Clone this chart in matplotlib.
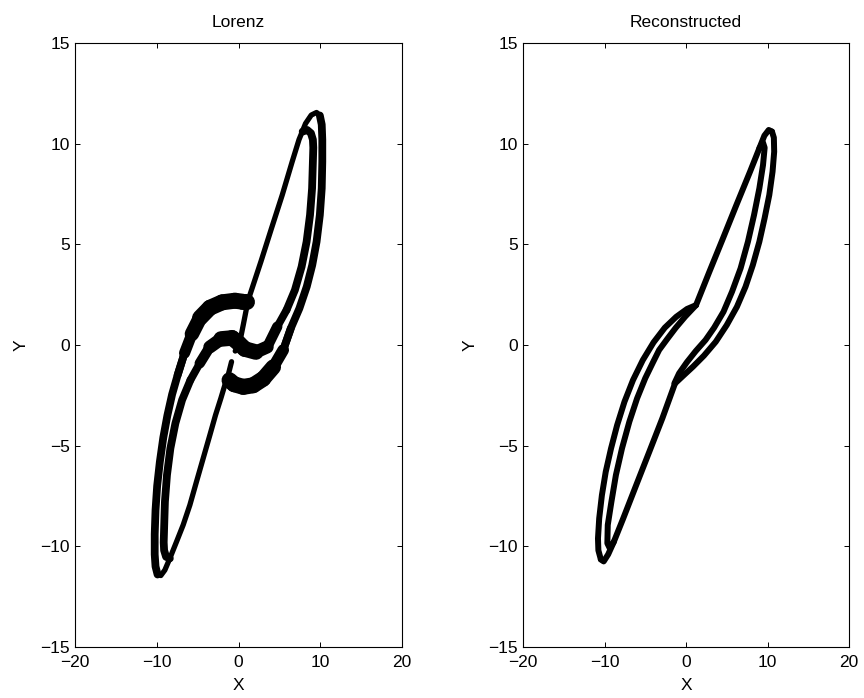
import matplotlib
matplotlib.use("Agg")
import matplotlib.pyplot as plt
import numpy as np
from matplotlib.collections import LineCollection

plt.rcParams['font.family'] = ['Liberation Sans', 'DejaVu Sans']

# ---- Lorenz panel (left), curves ----
lorenz_spine_up_x = [-0.40, 0.17, 0.58, 0.98, 1.39, 2.74, 4.04, 5.35, 6.57, 7.40, 8.20, 8.90, 9.55, 9.95]
lorenz_spine_up_y = [-0.30, 0.17, 0.99, 1.82, 2.48, 4.14, 5.80, 7.45, 9.11, 10.20, 11.00, 11.42, 11.55, 11.40]

lorenz_outer_right_x = [9.95, 10.18, 10.25, 10.25, 10.18, 9.95, 9.55, 9.02, 8.35, 7.45, 6.40, 5.47]
lorenz_outer_right_y = [11.40, 10.95, 10.20, 9.11, 7.78, 6.46, 5.13, 3.97, 2.90, 1.82, 0.83, -0.25]

lorenz_arc_low_x = [6.40, 5.47, 4.25, 3.02, 1.80, 0.58, -0.53, -1.10]
lorenz_arc_low_y = [0.83, -0.25, -1.10, -1.68, -2.00, -2.08, -1.95, -1.75]

lorenz_spine_low_x = [-0.85, -1.26, -1.67, -2.16, -2.81, -3.50, -4.32, -5.14, -5.95, -6.77, -7.58, -8.40, -9.01, -9.50, -9.90]
lorenz_spine_low_y = [-0.83, -1.49, -1.99, -2.65, -3.48, -4.47, -5.63, -6.79, -7.95, -8.94, -9.77, -10.60, -11.18, -11.45, -11.40]

lorenz_outer_left_x = [-9.90, -10.15, -10.25, -10.25, -10.15, -9.95, -9.62, -9.20, -8.70, -8.12, -7.45, -6.60]
lorenz_outer_left_y = [-11.40, -11.00, -10.40, -9.40, -8.20, -7.00, -5.80, -4.60, -3.50, -2.45, -1.50, -0.40]

lorenz_arc_up_x = [-7.45, -6.60, -5.70, -4.70, -3.50, -1.99, -0.44, 0.50, 1.00]
lorenz_arc_up_y = [-1.50, -0.40, 0.55, 1.35, 1.85, 2.12, 2.20, 2.15, 2.15]

lorenz_inner_right_x = [7.85, 8.40, 8.86, 9.10, 9.15, 9.10, 9.00, 8.75, 8.33, 7.72, 6.90, 5.88]
lorenz_inner_right_y = [10.60, 10.68, 10.52, 10.20, 9.80, 9.11, 7.78, 6.46, 5.13, 3.89, 2.73, 1.74]

lorenz_middle_x = [5.88, 4.74, 3.51, 2.13, 0.78, 0.00, -0.78, -2.13, -3.51, -4.74, -5.88]
lorenz_middle_y = [1.74, 0.91, -0.10, -0.35, -0.20, 0.10, 0.35, 0.30, -0.10, -0.91, -1.74]

lorenz_inner_left_x = [-5.88, -6.90, -7.72, -8.33, -8.75, -9.00, -9.10, -9.15, -9.10, -8.86, -8.40]
lorenz_inner_left_y = [-1.74, -2.73, -3.89, -5.13, -6.46, -7.78, -9.11, -9.80, -10.20, -10.52, -10.60]

# ---- Reconstructed panel (right) ----
recon_spine_up_x = [1.23, 2.87, 4.54, 6.18, 7.86, 9.00, 9.62, 10.15, 10.55]
recon_spine_up_y = [1.98, 3.64, 5.30, 6.95, 8.61, 9.77, 10.40, 10.68, 10.60]

recon_outer_right_x = [10.55, 10.78, 10.82, 10.62, 10.22, 9.64, 9.00, 8.20, 7.30, 6.25, 5.00, 3.65, 2.20, 0.85, -0.35, -1.35]
recon_outer_right_y = [10.60, 10.30, 9.60, 8.61, 7.45, 6.29, 5.13, 3.97, 2.89, 1.90, 0.99, 0.16, -0.53, -1.08, -1.53, -1.91]

recon_inner_right_x = [9.00, 9.45, 9.65, 9.45, 9.00, 8.35, 7.60, 6.70, 5.65, 4.60, 3.45, 2.40, 1.20, 0.10, -0.85, -1.43]
recon_inner_right_y = [9.77, 10.05, 9.80, 8.94, 7.78, 6.46, 5.13, 3.81, 2.65, 1.65, 0.86, 0.25, -0.30, -0.86, -1.41, -1.91]

recon_spine_low_x = [-1.35, -2.90, -4.50, -6.10, -7.70, -8.85, -9.55, -10.10, -10.45]
recon_spine_low_y = [-1.91, -3.64, -5.30, -6.95, -8.61, -9.77, -10.40, -10.75, -10.65]

recon_outer_left_x = [-10.45, -10.75, -10.80, -10.65, -10.32, -9.85, -9.20, -8.45, -7.55, -6.50, -5.30, -3.98, -2.60, -1.20, 0.13, 1.23]
recon_outer_left_y = [-10.65, -10.20, -9.61, -8.61, -7.46, -6.30, -5.14, -3.98, -2.82, -1.74, -0.75, 0.13, 0.86, 1.40, 1.79, 1.98]

recon_inner_left_x = [-8.85, -9.35, -9.65, -9.60, -9.15, -8.60, -7.85, -6.95, -6.00, -5.00, -4.05, -3.30, -2.30, -1.25, -0.10, 1.23]
recon_inner_left_y = [-9.77, -10.10, -9.85, -8.94, -7.78, -6.46, -5.13, -3.81, -2.65, -1.65, -0.86, -0.25, 0.30, 0.86, 1.41, 1.98]

titles = ['Lorenz', 'Reconstructed']
xticks = [-20, -10, 0, 10, 20]
yticks = [-15, -10, -5, 0, 5, 10, 15]

# line widths in points: spine (thin line), lobe edges, thick S-bands
W_SPINE, W_EDGE, W_BAND = 3.8, 5.6, 11.5

# (x, y, width at start, peak width, width at end)
lorenz_segments = [
    (lorenz_spine_up_x, lorenz_spine_up_y, W_SPINE, W_SPINE, W_SPINE),
    (lorenz_spine_low_x, lorenz_spine_low_y, W_SPINE, W_SPINE, W_SPINE),
    (lorenz_outer_right_x, lorenz_outer_right_y, W_EDGE, W_EDGE, W_EDGE),
    (lorenz_outer_left_x, lorenz_outer_left_y, W_EDGE, W_EDGE, W_EDGE),
    (lorenz_inner_right_x, lorenz_inner_right_y, W_EDGE, W_EDGE, W_EDGE),
    (lorenz_inner_left_x, lorenz_inner_left_y, W_EDGE, W_EDGE, W_EDGE),
    (lorenz_arc_low_x, lorenz_arc_low_y, W_EDGE, W_BAND, W_BAND),
    (lorenz_arc_up_x, lorenz_arc_up_y, W_EDGE, W_BAND, W_BAND),
    (lorenz_middle_x, lorenz_middle_y, W_EDGE, W_BAND, W_EDGE),
]

W_RECON = 4.3
recon_segments = [
    (recon_spine_up_x, recon_spine_up_y, W_RECON, W_RECON, W_RECON),
    (recon_spine_low_x, recon_spine_low_y, W_RECON, W_RECON, W_RECON),
    (recon_outer_right_x, recon_outer_right_y, W_RECON, W_RECON, W_RECON),
    (recon_inner_right_x, recon_inner_right_y, W_RECON, W_RECON, W_RECON),
    (recon_outer_left_x, recon_outer_left_y, W_RECON, W_RECON, W_RECON),
    (recon_inner_left_x, recon_inner_left_y, W_RECON, W_RECON, W_RECON),
]


def draw_curve(ax, xs, ys, w0, wmax, w1):
    if w0 == wmax == w1:
        ax.plot(xs, ys, color='k', lw=w0, solid_capstyle='round', solid_joinstyle='round')
        return
    pts = np.column_stack([xs, ys])
    segs = np.stack([pts[:-1], pts[1:]], axis=1)
    n = len(segs)
    t = np.linspace(0, 1, n)
    # ramp up over the first third, hold, ramp down over the last third
    widths = np.interp(t, [0, 0.35, 0.65, 1], [w0, wmax, wmax, w1])
    lc = LineCollection(segs, colors='k', linewidths=widths, capstyle='round', joinstyle='round')
    ax.add_collection(lc)


fig = plt.figure(figsize=(8.64, 6.98), dpi=100)
ax1 = fig.add_axes([75 / 864, 1 - 647 / 698, 327 / 864, 604 / 698])
ax2 = fig.add_axes([523 / 864, 1 - 647 / 698, 326 / 864, 604 / 698])

for ax, segs, title in [(ax1, lorenz_segments, titles[0]), (ax2, recon_segments, titles[1])]:
    for xs, ys, w0, wmax, w1 in segs:
        draw_curve(ax, xs, ys, w0, wmax, w1)
    ax.set_xlim(-20, 20)
    ax.set_ylim(-15, 15)
    ax.set_xticks(xticks)
    ax.set_yticks(yticks)
    ax.tick_params(direction='in', top=True, right=True, length=3.6, width=0.7,
                   labelsize=12.5)
    ax.tick_params(axis='x', pad=6)
    ax.tick_params(axis='y', pad=3.6)
    for sp in ax.spines.values():
        sp.set_linewidth(0.8)
    ax.set_title(title, fontsize=12.5, pad=11.5)
    ax.set_xlabel('X', fontsize=12.5)
    ax.set_ylabel('Y', fontsize=12.5)
    ax.xaxis.set_label_coords(0.5, -0.051)
    ax.yaxis.set_label_coords(-46 / 327, 0.5)

fig.savefig('out.png', dpi=100)
